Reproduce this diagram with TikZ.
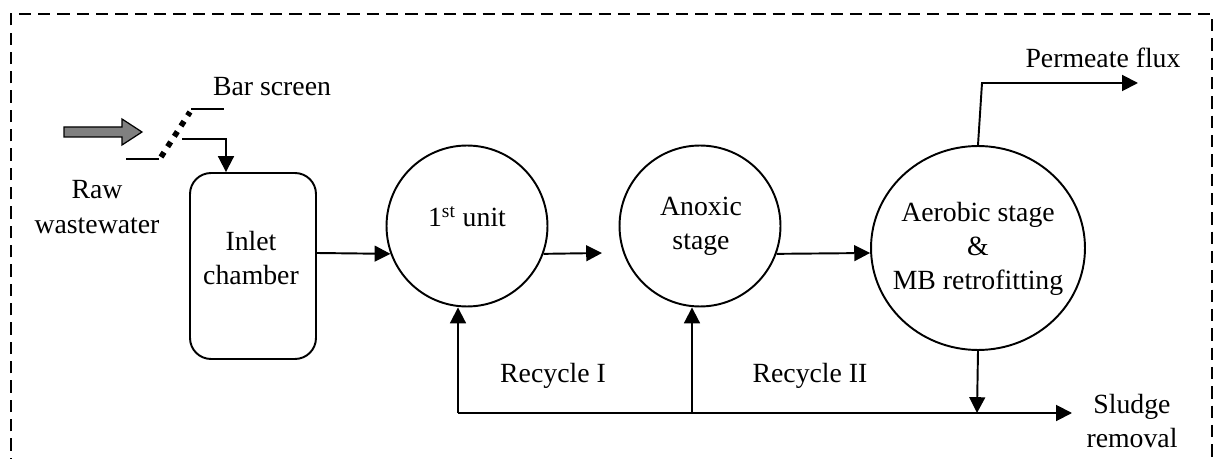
\documentclass[tikz,border=0pt]{standalone}
\usepackage{fontspec}
\setmainfont{Liberation Serif}
\usetikzlibrary{arrows.meta,shapes.geometric}
\begin{document}
\begin{tikzpicture}[x=0.02cm,y=-0.02cm,
  every node/.style={font=\fontsize{15.8}{19.5}\selectfont, align=center, inner sep=0pt},
  flow/.style={line width=1.1pt,-{Triangle[length=9pt,width=9pt]}},
  plain/.style={line width=1.1pt},
  unit/.style={draw, line width=1.1pt, circle, minimum size=3.22cm}]
\useasboundingbox (0,0) rectangle (1214,459);
% dashed frame, open at the bottom
\draw[line width=0.8pt, dash pattern=on 7pt off 4pt] (11,470) -- (11,14) -- (1212,14) -- (1212,470);

% units
\node[draw, line width=1.1pt, rounded corners=0.42cm, minimum width=2.52cm, minimum height=3.72cm] (inlet) at (253,266) {};
\node at (251,258) {Inlet\\chamber};
\node[unit] (u1) at (467,226) {};
\node at (467,217) {1\textsuperscript{st} unit};
\node[unit] (u2) at (700,226) {};
\node at (701,226) {Anoxic\\stage};
\node[draw, line width=1.1pt, ellipse, minimum width=4.28cm, minimum height=4.08cm] (u3) at (978,248) {};
\node at (978,249) {Aerobic stage\\\&\\MB retrofitting};

% labels
\node (raw) at (97,207) {Raw\\wastewater};
\node (bar) at (272,87) {Bar screen};
\node (perm) at (1103,58) {Permeate flux};
\node (sludge) at (1132,421) {Sludge\\removal};
\node (rec1) at (553,376) {Recycle I};
\node (rec2) at (810,376) {Recycle II};

% incoming wastewater
\draw[fill=gray, line width=0.7pt] (64,127) -- (122,127) -- (122,119) -- (142,132)
  -- (122,145) -- (122,137) -- (64,137) -- cycle;

% bar screen
\coordinate (bs1) at (126,159);
\coordinate (bs2) at (161,157);
\coordinate (bs3) at (190,112);
\coordinate (bs4) at (224,109);
\draw[plain] (bs1) -- (159,159);
\draw[line width=3.2pt, dash pattern=on 3.2pt off 3.8pt] (bs2) -- (bs3);
\draw[plain] (191,109) -- (bs4);
\coordinate (feed) at (182,139);
\draw[flow] (feed) -- (226,139) -- (inlet.north -| 226,0);

% main line
\draw[flow] (inlet.east |- 0,253) -- (u1.200);
\draw[flow] (u1.-20) -- (602,253);
\draw[flow] (u2.-20) -- (u3.west |- 0,253);

% permeate
\coordinate (pc) at (982,83);
\draw[flow] (u3.north) -- (pc) -- (1138,83);

% sludge and recycle
\coordinate (sl) at (977,413);
\coordinate (r1) at (458,413);
\coordinate (r2) at (692,413);
\draw[flow] (u3.south) -- (sl);
\draw[flow] (r1) -- (1072,413);
\draw[flow] (r1) -- (u1.south -| r1);
\draw[flow] (r2) -- (u2.south -| r2);
\end{tikzpicture}
\end{document}
